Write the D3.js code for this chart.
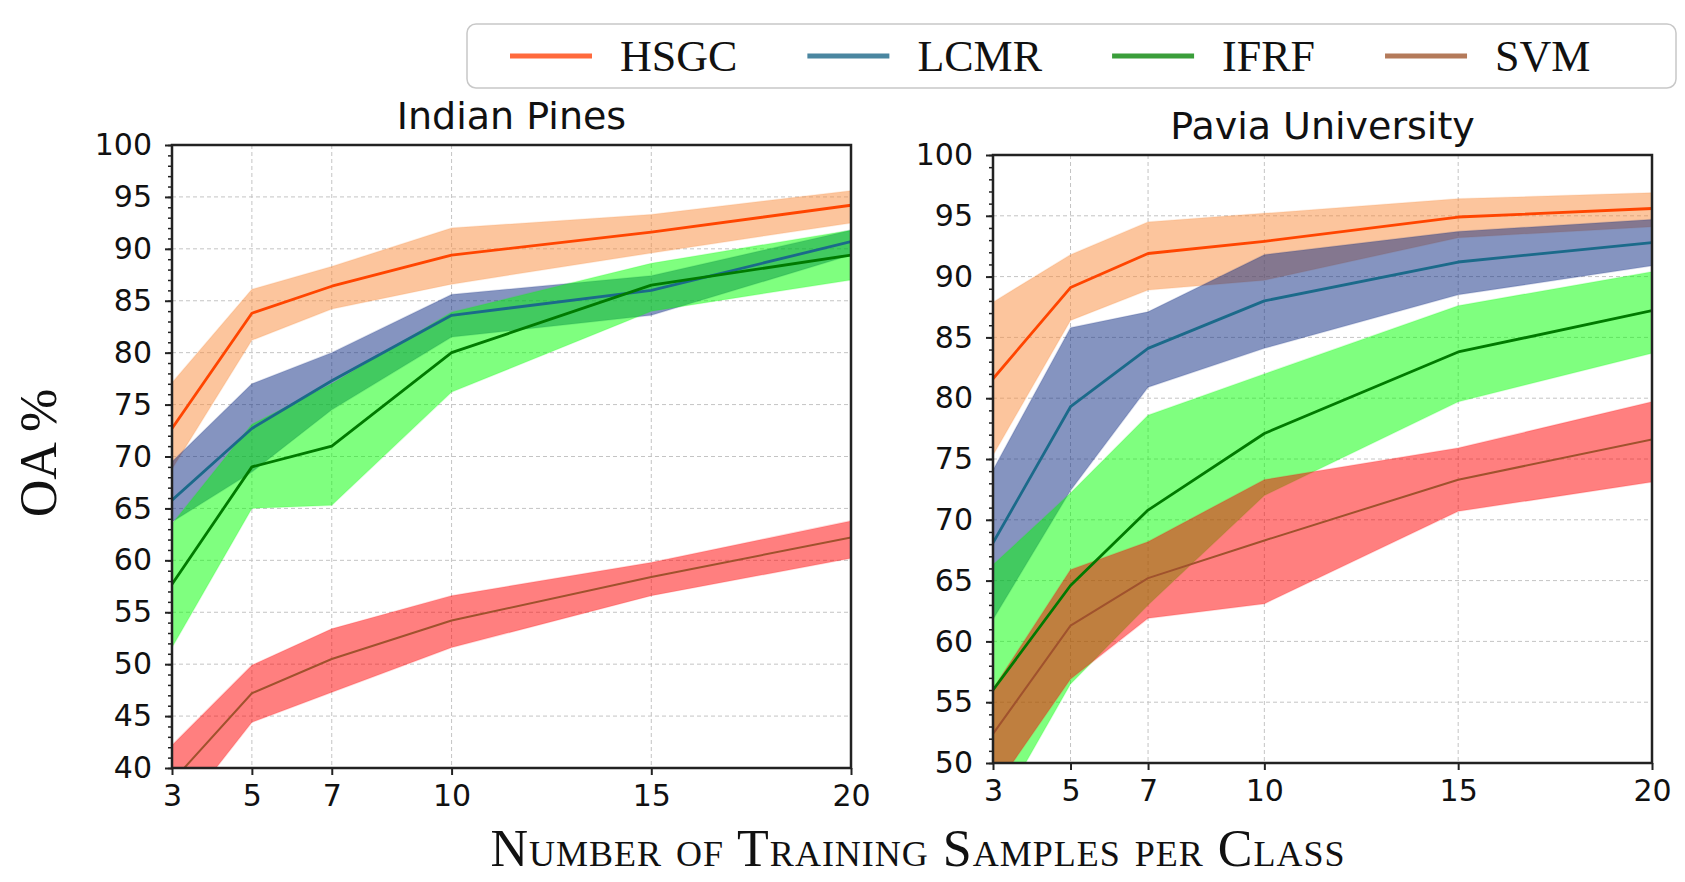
<!DOCTYPE html>
<html>
<head>
<meta charset="utf-8">
<script src="https://cdn.jsdelivr.net/npm/d3@7"></script>
<style>
  html, body { margin: 0; padding: 0; background: #fff; }
  svg { display: block; }
</style>
</head>
<body>
<svg id="chart" width="1685" height="882"></svg>
<script>
// training samples per class
const samples = [3, 5, 7, 10, 15, 20];
const methods = ["HSGC", "LCMR", "IFRF", "SVM"];
const yTicksIP = [40, 45, 50, 55, 60, 65, 70, 75, 80, 85, 90, 95, 100];
const yTicksPU = [50, 55, 60, 65, 70, 75, 80, 85, 90, 95, 100];

// Indian Pines: mean, low, high
const ipHSGC = [72.7, 83.8, 86.4, 89.4, 91.6, 94.2];
const ipHSGCLo = [68.8, 81.2, 84.2, 86.6, 89.6, 92.5];
const ipHSGCHi = [77.1, 86.1, 88.3, 92.0, 93.3, 95.6];
const ipLCMR = [65.8, 72.7, 77.3, 83.6, 86.0, 90.7];
const ipLCMRLo = [63.7, 68.5, 74.5, 81.5, 83.6, 89.4];
const ipLCMRHi = [69.5, 77.0, 80.0, 85.6, 87.4, 91.8];
const ipIFRF = [57.7, 69.0, 71.0, 80.0, 86.5, 89.4];
const ipIFRFLo = [51.6, 65.0, 65.3, 76.2, 84.0, 87.0];
const ipIFRFHi = [63.5, 73.1, 77.0, 83.9, 88.6, 91.8];
const ipSVM = [38.7, 47.2, 50.5, 54.2, 58.4, 62.2];
const ipSVMLo = [34.6, 44.4, 47.3, 51.6, 56.6, 60.2];
const ipSVMHi = [42.2, 49.9, 53.4, 56.6, 59.8, 63.8];

// Pavia University: mean, low, high
const puHSGC = [81.6, 89.1, 91.9, 92.9, 94.9, 95.6];
const puHSGCLo = [75.3, 86.4, 88.9, 89.7, 93.2, 94.1];
const puHSGCHi = [87.9, 91.8, 94.5, 95.2, 96.4, 96.9];
const puLCMR = [68.1, 79.3, 84.1, 88.0, 91.2, 92.8];
const puLCMRLo = [61.8, 72.4, 80.9, 84.1, 88.5, 90.9];
const puLCMRHi = [74.1, 85.8, 87.1, 91.8, 93.7, 94.7];
const puIFRF = [56.0, 64.6, 70.8, 77.1, 83.8, 87.2];
const puIFRFLo = [45.3, 56.5, 63.0, 72.0, 79.7, 83.7];
const puIFRFHi = [66.3, 72.2, 78.6, 82.0, 87.6, 90.4];
const puSVM = [52.4, 61.3, 65.2, 68.3, 73.3, 76.6];
const puSVMLo = [47.7, 56.9, 61.9, 63.1, 70.7, 73.1];
const puSVMHi = [56.1, 65.9, 68.2, 73.3, 75.9, 79.7];

const lineColor = { HSGC: "#ff4500", LCMR: "#1b6a8a", IFRF: "#007a00", SVM: "#a0522d" };
const bandColor = { HSGC: "#f98b3c", LCMR: "#0b2981", IFRF: "#00ff00", SVM: "#ff0000" };
const legendColor = { HSGC: "#ff6a3d", LCMR: "#4a86a0", IFRF: "#3a9e3a", SVM: "#b47a5a" };

const svg = d3.select("#chart");

function panel(id, box, yDomain, yTicks, title, titleY, series) {
  const x = d3.scaleLinear().domain([3, 20]).range([box.x0, box.x1]);
  const y = d3.scaleLinear().domain(yDomain).range([box.y1, box.y0]);

  svg.append("clipPath").attr("id", id)
    .append("rect")
    .attr("x", box.x0).attr("y", box.y0)
    .attr("width", box.x1 - box.x0).attr("height", box.y1 - box.y0);

  // grid
  const grid = svg.append("g");
  grid.selectAll(".gx").data(samples).enter().append("line")
    .attr("x1", d => x(d)).attr("x2", d => x(d))
    .attr("y1", box.y0).attr("y2", box.y1)
    .attr("stroke", "#c4c4c4").attr("stroke-width", 1).attr("stroke-dasharray", "4,3");
  grid.selectAll(".gy").data(yTicks).enter().append("line")
    .attr("x1", box.x0).attr("x2", box.x1)
    .attr("y1", d => y(d)).attr("y2", d => y(d))
    .attr("stroke", "#c4c4c4").attr("stroke-width", 1).attr("stroke-dasharray", "4,3");

  const g = svg.append("g").attr("clip-path", "url(#" + id + ")");
  const area = d3.area()
    .x((d, i) => x(samples[i]))
    .y0(d => y(d[0])).y1(d => y(d[1]));
  const line = d3.line().x((d, i) => x(samples[i])).y(d => y(d));

  series.forEach(s => {
    const pts = s.lo.map((v, i) => [v, s.hi[i]]);
    g.append("path").datum(pts)
      .attr("d", area)
      .attr("fill", bandColor[s.name]).attr("fill-opacity", 0.5)
      .attr("stroke", bandColor[s.name]).attr("stroke-opacity", 0.15).attr("stroke-width", 1.5);
  });
  series.forEach(s => {
    g.append("path").datum(s.mean)
      .attr("d", line)
      .attr("fill", "none")
      .attr("stroke", lineColor[s.name])
      .attr("stroke-width", s.name === "SVM" ? 2 : 2.8)
      .attr("stroke-linejoin", "round");
  });

  // minor y ticks
  const minor = d3.range(yDomain[0], yDomain[1] + 1, 1);
  svg.append("g").attr("transform", "translate(" + box.x0 + ",0)")
    .call(d3.axisLeft(y).tickValues(minor).tickSize(4).tickFormat(""))
    .call(a => a.select(".domain").remove())
    .selectAll("line").attr("stroke", "#222").attr("stroke-width", 1.5);

  const ya = svg.append("g").attr("transform", "translate(" + box.x0 + ",0)")
    .call(d3.axisLeft(y).tickValues(yTicks).tickSize(7).tickPadding(13));
  ya.select(".domain").remove();
  ya.selectAll("line").attr("stroke", "#222").attr("stroke-width", 2);
  ya.selectAll("text").attr("font-family", "DejaVu Sans").attr("font-size", 30).attr("fill", "#111");

  const xa = svg.append("g").attr("transform", "translate(0," + box.y1 + ")")
    .call(d3.axisBottom(x).tickValues(samples).tickSize(7).tickPadding(10));
  xa.select(".domain").remove();
  xa.selectAll("line").attr("stroke", "#222").attr("stroke-width", 2);
  xa.selectAll("text").attr("font-family", "DejaVu Sans").attr("font-size", 30).attr("fill", "#111");

  svg.append("rect")
    .attr("x", box.x0).attr("y", box.y0)
    .attr("width", box.x1 - box.x0).attr("height", box.y1 - box.y0)
    .attr("fill", "none").attr("stroke", "#222").attr("stroke-width", 2.5);

  svg.append("text")
    .attr("x", (box.x0 + box.x1) / 2).attr("y", titleY)
    .attr("text-anchor", "middle")
    .attr("font-family", "DejaVu Sans").attr("font-size", 38).attr("fill", "#111")
    .text(title);
}

panel("clipIP", { x0: 172, x1: 851, y0: 145, y1: 768 }, [40, 100], yTicksIP, "Indian Pines", 129, [
  { name: "HSGC", mean: ipHSGC, lo: ipHSGCLo, hi: ipHSGCHi },
  { name: "LCMR", mean: ipLCMR, lo: ipLCMRLo, hi: ipLCMRHi },
  { name: "IFRF", mean: ipIFRF, lo: ipIFRFLo, hi: ipIFRFHi },
  { name: "SVM", mean: ipSVM, lo: ipSVMLo, hi: ipSVMHi }
]);

panel("clipPU", { x0: 993, x1: 1652, y0: 155, y1: 763 }, [50, 100], yTicksPU, "Pavia University", 139, [
  { name: "HSGC", mean: puHSGC, lo: puHSGCLo, hi: puHSGCHi },
  { name: "LCMR", mean: puLCMR, lo: puLCMRLo, hi: puLCMRHi },
  { name: "IFRF", mean: puIFRF, lo: puIFRFLo, hi: puIFRFHi },
  { name: "SVM", mean: puSVM, lo: puSVMLo, hi: puSVMHi }
]);

// legend
const leg = svg.append("g");
leg.append("rect")
  .attr("x", 467).attr("y", 24).attr("width", 1209).attr("height", 64).attr("rx", 9)
  .attr("fill", "#fff").attr("stroke", "#c8c8c8").attr("stroke-width", 1.5);
let lx = 510;
methods.forEach(m => {
  leg.append("line")
    .attr("x1", lx).attr("x2", lx + 82).attr("y1", 56).attr("y2", 56)
    .attr("stroke", legendColor[m]).attr("stroke-width", 5);
  const t = leg.append("text")
    .attr("x", lx + 110).attr("y", 71)
    .attr("font-family", "Liberation Serif").attr("font-size", 44).attr("fill", "#111")
    .text(m);
  lx += 110 + t.node().getComputedTextLength() + 70;
});

// axis titles
svg.append("text")
  .attr("transform", "translate(56,453) rotate(-90)")
  .attr("text-anchor", "middle")
  .attr("font-family", "Liberation Serif").attr("font-size", 52).attr("fill", "#111")
  .text("OA %");

svg.append("text")
  .attr("x", 918).attr("y", 866)
  .attr("text-anchor", "middle")
  .attr("font-family", "Liberation Serif").attr("font-size", 52).attr("fill", "#111")
  .attr("letter-spacing", 1)
  .style("font-variant", "small-caps")
  .text("Number of Training Samples per Class");
</script>
</body>
</html>
